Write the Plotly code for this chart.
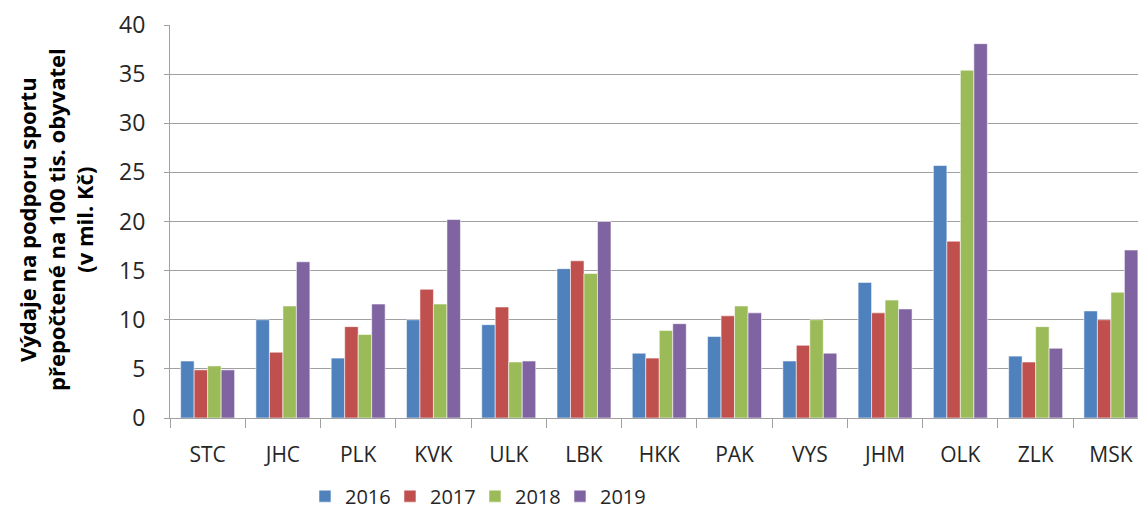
import plotly.graph_objects as go

categories = ["STC", "JHC", "PLK", "KVK", "ULK", "LBK", "HKK", "PAK", "VYS", "JHM", "OLK", "ZLK", "MSK"]
v2016 = [5.8, 10.0, 6.1, 10.0, 9.5, 15.2, 6.6, 8.3, 5.8, 13.8, 25.7, 6.3, 10.9]
v2017 = [4.9, 6.7, 9.3, 13.1, 11.3, 16.0, 6.1, 10.4, 7.4, 10.7, 18.0, 5.7, 10.0]
v2018 = [5.3, 11.4, 8.5, 11.6, 5.7, 14.7, 8.9, 11.4, 10.0, 12.0, 35.4, 9.3, 12.8]
v2019 = [4.9, 15.9, 11.6, 20.2, 5.8, 20.0, 9.6, 10.7, 6.6, 11.1, 38.1, 7.1, 17.1]
years = ["2016", "2017", "2018", "2019"]
colors = ["#4f81bd", "#c0504d", "#9bbb59", "#8064a2"]
y_ticks = [0, 5, 10, 15, 20, 25, 30, 35, 40]
y_title = "Výdaje na podporu sportu<br>přepočtené na 100 tis. obyvatel<br>(v mil. Kč)"

FONT = "Open Sans"
fig = go.Figure()
for name, vals, col in zip(years, [v2016, v2017, v2018, v2019], colors):
    fig.add_trace(go.Bar(
        x=categories, y=vals, name=name,
        marker=dict(color=col, line=dict(color="rgba(255,255,255,0.55)", width=1)),
    ))

fig.update_layout(
    width=1138, height=512,
    margin=dict(l=170, r=0, t=25, b=94, autoexpand=False),
    paper_bgcolor="white", plot_bgcolor="white",
    barmode="group", bargap=0.283, bargroupgap=0,
    font=dict(family=FONT, color="#262626"),
    showlegend=True,
    legend=dict(
        orientation="h", xref="container", yref="container",
        x=0.268, xanchor="left", y=0.031, yanchor="middle",
        font=dict(family=FONT, size=20, color="#262626"),
        itemwidth=30, entrywidth=40, traceorder="normal",
        bgcolor="rgba(0,0,0,0)",
    ),
    xaxis=dict(
        range=[-0.5, 12.36], type="category", automargin=False,
        showline=True, linecolor="#a0a0a0", linewidth=1,
        ticks="outside", tickson="boundaries", ticklen=9, tickcolor="#a0a0a0", tickwidth=1,
        tickfont=dict(family=FONT, size=21, color="#262626"),
        ticklabelstandoff=18,
        showgrid=False,
    ),
    yaxis=dict(
        range=[0, 40], tickvals=y_ticks, automargin=False,
        showline=True, linecolor="#a0a0a0", linewidth=1,
        ticks="outside", ticklen=5, tickcolor="#a0a0a0", tickwidth=1,
        tickfont=dict(family=FONT, size=23, color="#262626"),
        ticklabelstandoff=14,
        showgrid=True, gridcolor="#a0a0a0", gridwidth=1,
        zeroline=False,
    ),
    annotations=[dict(
        text="<b>" + y_title + "</b>", xref="paper", yref="paper",
        x=-0.1183, y=0.505, xanchor="center", yanchor="middle",
        textangle=-90, showarrow=False,
        font=dict(family=FONT, size=22, color="#000000"),
    )],
)

fig.write_html(
    "out.html",
    config={"displayModeBar": False},
    post_script="document.body.style.margin='0';document.documentElement.style.overflow='hidden';",
)
